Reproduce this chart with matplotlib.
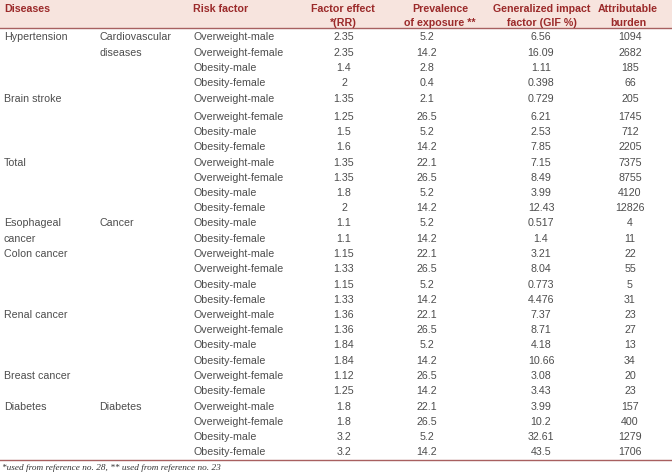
import matplotlib
matplotlib.use("Agg")
import matplotlib.pyplot as plt
from matplotlib.patches import Rectangle

# ---- data ----
headers = ["Diseases", "", "Risk factor", "Factor effect\n*(RR)",
           "Prevalence\nof exposure **", "Generalized impact\nfactor (GIF %)",
           "Attributable\nburden"]

disease_labels = {0: "Hypertension", 4: "Brain stroke", 8: "Total",
                  12: "Esophageal\ncancer", 14: "Colon cancer",
                  18: "Renal cancer", 22: "Breast cancer", 24: "Diabetes"}
group_labels = {0: "Cardiovascular\ndiseases", 12: "Cancer", 24: "Diabetes"}

risk_factors = [
    "Overweight-male", "Overweight-female", "Obesity-male", "Obesity-female",
    "Overweight-male", "Overweight-female", "Obesity-male", "Obesity-female",
    "Overweight-male", "Overweight-female", "Obesity-male", "Obesity-female",
    "Obesity-male", "Obesity-female",
    "Overweight-male", "Overweight-female", "Obesity-male", "Obesity-female",
    "Overweight-male", "Overweight-female", "Obesity-male", "Obesity-female",
    "Overweight-female", "Obesity-female",
    "Overweight-male", "Overweight-female", "Obesity-male", "Obesity-female",
]
factor_effect = ["2.35", "2.35", "1.4", "2", "1.35", "1.25", "1.5", "1.6",
                 "1.35", "1.35", "1.8", "2", "1.1", "1.1", "1.15", "1.33",
                 "1.15", "1.33", "1.36", "1.36", "1.84", "1.84", "1.12",
                 "1.25", "1.8", "1.8", "3.2", "3.2"]
prevalence = ["5.2", "14.2", "2.8", "0.4", "2.1", "26.5", "5.2", "14.2",
              "22.1", "26.5", "5.2", "14.2", "5.2", "14.2", "22.1", "26.5",
              "5.2", "14.2", "22.1", "26.5", "5.2", "14.2", "26.5", "14.2",
              "22.1", "26.5", "5.2", "14.2"]
gif = ["6.56", "16.09", "1.11", "0.398", "0.729", "6.21", "2.53", "7.85",
       "7.15", "8.49", "3.99", "12.43", "0.517", "1.4", "3.21", "8.04",
       "0.773", "4.476", "7.37", "8.71", "4.18", "10.66", "3.08", "3.43",
       "3.99", "10.2", "32.61", "43.5"]
burden = ["1094", "2682", "185", "66", "205", "1745", "712", "2205",
          "7375", "8755", "4120", "12826", "4", "11", "22", "55",
          "5", "31", "23", "27", "13", "34", "20", "23",
          "157", "400", "1279", "1706"]
footnote = "*used from reference no. 28, ** used from reference no. 23"

# ---- layout ----
W, H = 672, 475
fig = plt.figure(figsize=(6.72, 4.75), dpi=100)
ax = fig.add_axes([0, 0, 1, 1])
ax.set_xlim(0, W)
ax.set_ylim(H, 0)
ax.axis("off")

hdr_color = "#9b2a2a"
line_color = "#a86060"
txt_color = "#4d4d4d"
fs = 7.7
font = ["Liberation Sans", "DejaVu Sans"]

ax.add_patch(Rectangle((0, 0), W, 28, facecolor="#f7e4de", edgecolor="none"))
ax.plot([0, W], [28, 28], color=line_color, lw=1.0)
ax.plot([0, W], [460, 460], color=line_color, lw=1.0)

def row_y(i):
    return 37.5 + 15.25 * i + (3 if i >= 5 else 0)

# header
hx = [4, None, 193, 343, 440, 542, 628]
for j, h in enumerate(headers):
    if not h:
        continue
    ha = "left" if j < 3 else "center"
    for k, line in enumerate(h.split("\n")):
        ax.text(hx[j], 8.5 + 14 * k, line, ha=ha, va="center", fontsize=fs,
                fontweight="bold", color=hdr_color, family=font)

def multiline(x, i0, s):
    for k, line in enumerate(s.split("\n")):
        ax.text(x, row_y(i0 + k), line, ha="left", va="center", fontsize=fs,
                color=txt_color, family=font)

for i, s in disease_labels.items():
    multiline(4, i, s)
for i, s in group_labels.items():
    multiline(99, i, s)

cols = [(risk_factors, 193, "left"), (factor_effect, 344, "center"),
        (prevalence, 427, "center"), (gif, 541, "center"),
        (burden, 630, "center")]
for vals, x, ha in cols:
    for i, v in enumerate(vals):
        ax.text(x, row_y(i), v, ha=ha, va="center", fontsize=fs,
                color=txt_color, family=font)

ax.text(2, 467.5, footnote, ha="left", va="center", fontsize=6.7,
        style="italic", color="#333333", family=["Liberation Serif", "DejaVu Serif"])

fig.savefig("out.png", dpi=100)
